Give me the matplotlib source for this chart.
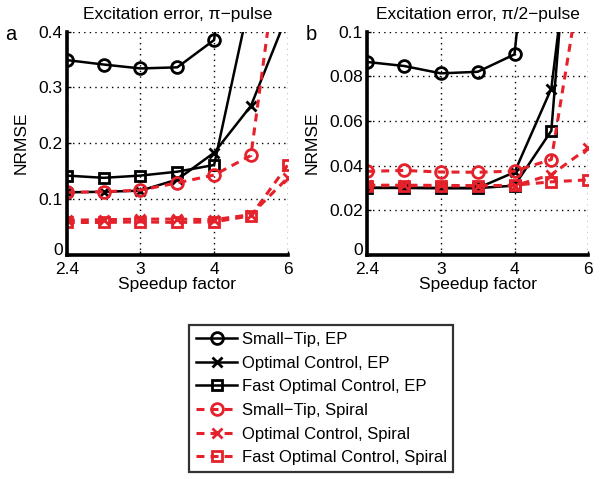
import matplotlib
matplotlib.use("Agg")
import matplotlib.pyplot as plt
from matplotlib.lines import Line2D

plt.rcParams["font.family"] = ["Liberation Sans", "DejaVu Sans"]

# speedup factors (equally spaced in 1/speedup)
speedup = [2.4, 2.667, 3, 3.429, 4, 4.8, 6]
tick_vals = [2.4, 3, 4, 6]
tick_labels = ["2.4", "3", "4", "6"]

names = [
    "Small\u2212Tip, EP",
    "Optimal Control, EP",
    "Fast Optimal Control, EP",
    "Small\u2212Tip, Spiral",
    "Optimal Control, Spiral",
    "Fast Optimal Control, Spiral",
]

# panel a: excitation error, pi-pulse
pi_st_ep = [0.349, 0.341, 0.334, 0.336, 0.385, 0.95, 1.2]
pi_oc_ep = [0.112, 0.113, 0.115, 0.135, 0.183, 0.267, 0.432]
pi_foc_ep = [0.142, 0.138, 0.142, 0.149, 0.161, 0.466, 0.8]
pi_st_sp = [0.112, 0.113, 0.116, 0.129, 0.143, 0.178, 0.67]
pi_oc_sp = [0.062, 0.063, 0.064, 0.064, 0.063, 0.072, 0.138]
pi_foc_sp = [0.058, 0.058, 0.059, 0.058, 0.059, 0.070, 0.161]

# panel b: excitation error, pi/2-pulse
half_st_ep = [0.0864, 0.0846, 0.0813, 0.0820, 0.0898, 0.25, 0.4]
half_oc_ep = [0.0300, 0.0300, 0.0299, 0.0299, 0.0370, 0.0745, 0.21]
half_foc_ep = [0.0300, 0.0300, 0.0299, 0.0299, 0.0310, 0.0556, 0.26]
half_st_sp = [0.0374, 0.0378, 0.0371, 0.0370, 0.0375, 0.0427, 0.144]
half_oc_sp = [0.0312, 0.0312, 0.0311, 0.0310, 0.0310, 0.0359, 0.0479]
half_foc_sp = [0.0310, 0.0310, 0.0309, 0.0309, 0.0312, 0.0327, 0.0336]

RED = "#e5212b"
DASH = (0, (2.6, 2.0))
styles = [
    dict(color="k", ls="-", lw=1.8, marker="o", ms=8.5, mfc="none"),
    dict(color="k", ls="-", lw=1.8, marker="x", ms=7.5),
    dict(color="k", ls="-", lw=1.8, marker="s", ms=7, mfc="none"),
    dict(color=RED, ls=DASH, lw=2.2, marker="o", ms=8.5, mfc="none"),
    dict(color=RED, ls=DASH, lw=2.2, marker="x", ms=7.5),
    dict(color=RED, ls=DASH, lw=2.2, marker="s", ms=7, mfc="none"),
]

FS = 12.5


def draw_panel(ax, series, ymax, yticks, ylabels, title, letter):
    ax.set_xscale("function", functions=(lambda s: -1.0 / s, lambda u: -1.0 / u))
    for y, st in zip(series, styles):
        ax.plot(speedup, y, mew=2.0, **st)
    ax.set_xlim(2.4, 6)
    ax.set_ylim(0, ymax)
    ax.set_xticks(tick_vals)
    ax.set_xticklabels(tick_labels)
    ax.set_yticks(yticks)
    ax.set_yticklabels(ylabels)
    ax.grid(True, color="k", ls=(0, (1, 3)), lw=1.0)
    ax.spines["top"].set_visible(False)
    ax.spines["right"].set_visible(False)
    ax.spines["left"].set_linewidth(2.6)
    ax.spines["bottom"].set_linewidth(2.6)
    ax.tick_params(direction="in", length=3, width=1, labelsize=FS)
    ax.tick_params(axis="x", pad=5.5)
    ax.tick_params(axis="y", pad=3)
    # lift the "0" label a little so it clears the first x label
    ax.get_yticklabels()[0].set_verticalalignment("baseline")
    ax.set_xlabel("Speedup factor", fontsize=FS, labelpad=0)
    ax.set_ylabel("NRMSE", fontsize=FS, labelpad=7)
    ax.set_title(title, fontsize=FS, pad=9)
    ax.text(-0.255, 0.985, letter, transform=ax.transAxes, fontsize=14.5,
            ha="center", va="center")


fig = plt.figure(figsize=(6.02, 4.79), dpi=100)
ax1 = fig.add_axes([0.111, 0.468, 0.367, 0.466])
ax2 = fig.add_axes([0.610, 0.468, 0.367, 0.466])

draw_panel(ax1, [pi_st_ep, pi_oc_ep, pi_foc_ep, pi_st_sp, pi_oc_sp, pi_foc_sp],
           0.4, [0, 0.1, 0.2, 0.3, 0.4], ["0", "0.1", "0.2", "0.3", "0.4"],
           "Excitation error, \u03c0\u2212pulse", "a")
draw_panel(ax2, [half_st_ep, half_oc_ep, half_foc_ep, half_st_sp, half_oc_sp, half_foc_sp],
           0.1, [0, 0.02, 0.04, 0.06, 0.08, 0.1],
           ["0", "0.02", "0.04", "0.06", "0.08", "0.1"],
           "Excitation error, \u03c0/2\u2212pulse", "b")

handles = []
for name, st in zip(names, styles):
    handles.append(Line2D([], [], mew=2.0, label=name, **st))

leg = fig.legend(handles=handles, loc="upper left", bbox_to_anchor=(0.314, 0.321),
                 fontsize=12, frameon=True, fancybox=False, handlelength=2.5,
                 handletextpad=0.25, labelspacing=0.52, borderpad=0.4,
                 borderaxespad=0)
leg.get_frame().set_edgecolor("k")
leg.get_frame().set_linewidth(1.6)

fig.savefig("out.png", dpi=100)
